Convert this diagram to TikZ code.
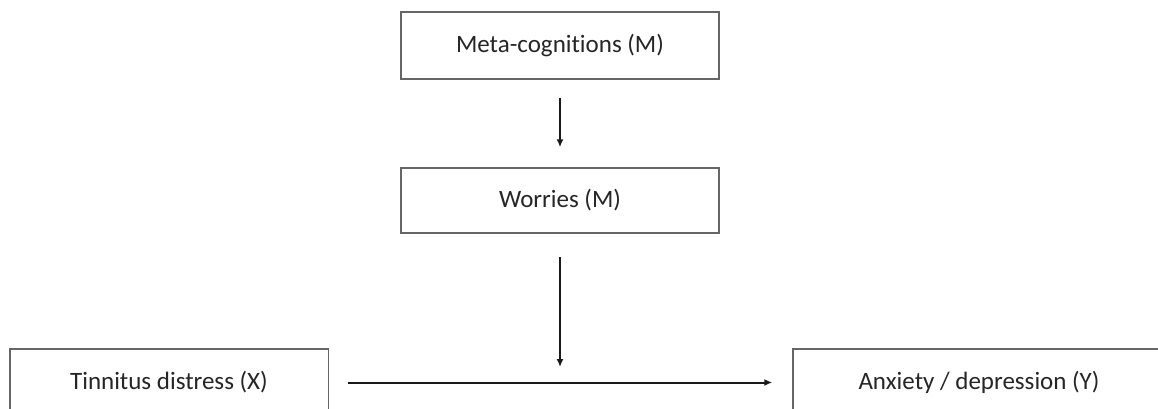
\documentclass[tikz,border=0pt]{standalone}
\usepackage{fontspec}
\setmainfont[Ligatures=NoCommon]{Carlito}
\usetikzlibrary{arrows.meta}
\begin{document}
\begin{tikzpicture}[x=1pt,y=-1pt,
  box/.style={draw=black!60, line width=1.5pt, fill=white, text=black!85,
    font=\fontsize{25}{30}\selectfont, inner sep=0pt, minimum height=67pt},
  conn/.style={draw=black!90, line width=2pt, -{Latex[length=8pt,width=7pt]}}]
\useasboundingbox (0,0) rectangle (1158,409);
\clip (0,0) rectangle (1158,409);
\fill[white] (0,0) rectangle (1158,409);
\node[box, minimum width=318pt] (meta) at (560,45.5) {Meta-cognitions (M)};
\node[box, minimum width=318pt, minimum height=65pt] (worr) at (560,200.5) {Worries (M)};
\node[box, minimum width=318.5pt] (tinn) at (169,382.5) {Tinnitus distress (X)};
\node[box, minimum width=372pt] (anx) at (979,382.5) {Anxiety / depression (Y)};
\coordinate (mid) at (560,383);
\draw[conn, shorten <=18pt, shorten >=20pt] (meta) -- (worr);
\draw[conn, shorten <=23pt, shorten >=16pt] (worr) -- (mid);
\draw[conn, shorten <=19pt, shorten >=20pt] (tinn) -- (anx);
\end{tikzpicture}
\end{document}
